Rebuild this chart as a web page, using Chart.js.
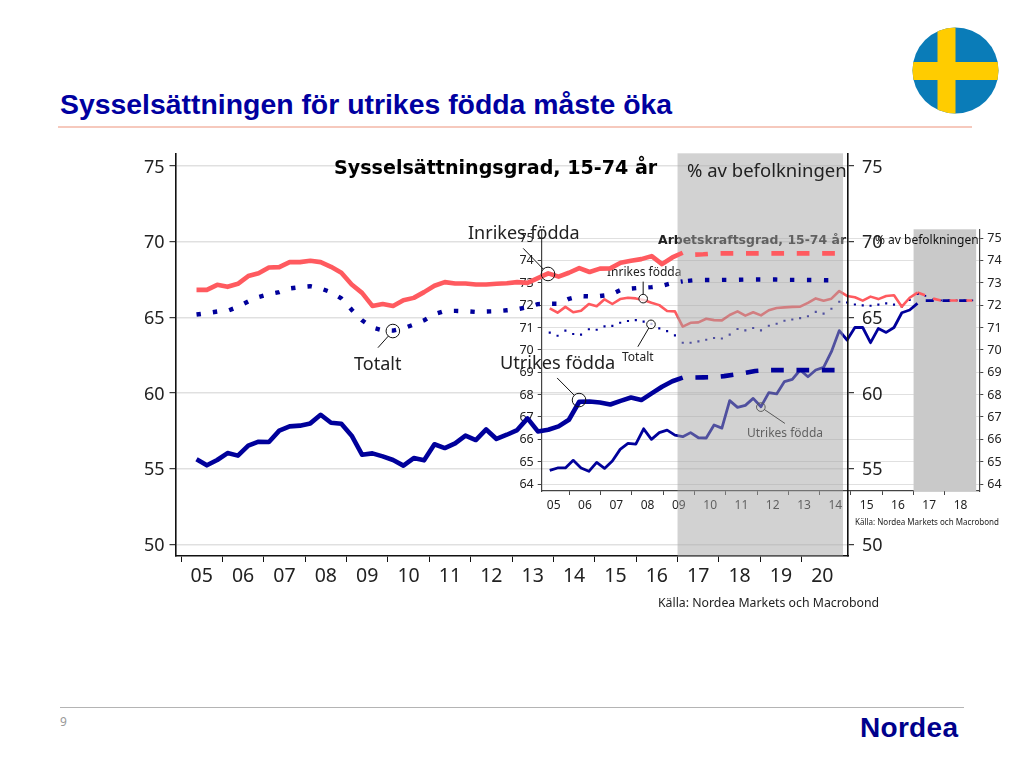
<!DOCTYPE html>
<html lang="sv">
<head>
<meta charset="utf-8">
<title>Sysselsättningen för utrikes födda måste öka</title>
<script src="https://cdn.jsdelivr.net/npm/chart.js@4/dist/chart.umd.min.js"></script>
<style>
  html, body { margin: 0; padding: 0; background: #fff; }
  #page { position: relative; width: 1024px; height: 768px; overflow: hidden; font-family: "Noto Sans", sans-serif; color: #222; }
  #page > div { position: absolute; white-space: nowrap; line-height: 1; }
  #heading { left: 60px; top: 90px; font: bold 28.4px "Liberation Sans", sans-serif; color: #0000a0; z-index: 5; }
  #headRule { left: 58px; top: 126px; width: 914px; height: 2px; background: #f6c9bd; }
  #footRule { left: 60px; top: 707px; width: 904px; height: 1px; background: #b4b4b4; }
  #pageNo { left: 60px; top: 716px; font-size: 12px; color: #999; }
  #logo { left: 860px; top: 714px; font: bold 28px "Liberation Sans", sans-serif; color: #00008c; letter-spacing: 0.3px; }
  #flag { position: absolute; left: 912px; top: 27px; }
  .box { position: absolute; }
  #smallBox { left: 490px; top: 220px; width: 530px; height: 300px; z-index: 1; }
  #bigBox { left: 125px; top: 145px; width: 765px; height: 450px; z-index: 2; }
  .under { z-index: 1; }
  .over { z-index: 3; }
  .heavy { font-family: "DejaVu Sans", sans-serif; font-weight: bold; }
</style>
</head>
<body>
<div id="page">
  <div id="heading">Sysselsättningen för utrikes födda måste öka</div>
  <div id="headRule"></div>
  <svg id="flag" width="87" height="87" viewBox="0 0 87 87">
    <clipPath id="disc"><circle cx="43.5" cy="43.5" r="43"/></clipPath>
    <g clip-path="url(#disc)">
      <rect width="87" height="87" fill="#0a7cb8"/>
      <rect x="25.5" width="18" height="87" fill="#ffcc00"/>
      <rect y="35" width="87" height="18" fill="#ffcc00"/>
    </g>
  </svg>

  <div class="box" id="smallBox"><canvas id="smallChart"></canvas></div>
  <div class="under heavy" style="left:658px;top:234px;font-size:12.45px;color:#222">Arbetskraftsgrad, 15-74 år</div>
  <div class="under" style="left:875px;top:234px;font-size:12px;color:#111">% av befolkningen</div>
  <div class="under" style="left:607px;top:266px;font-size:12px">Inrikes födda</div>
  <div class="under" style="left:622px;top:351px;font-size:12px">Totalt</div>
  <div class="under" style="left:747px;top:427px;font-size:12px">Utrikes födda</div>
  <div class="under" style="left:855px;top:518px;font-size:8px">Källa: Nordea Markets och Macrobond</div>

  <div class="box" id="bigBox"><canvas id="bigChart"></canvas></div>
  <div class="over heavy" style="left:334px;top:158px;font-size:19.1px;color:#000">Sysselsättningsgrad, 15-74 år</div>
  <div class="over" style="left:687px;top:161px;font-size:18.5px">% av befolkningen</div>
  <div class="over" style="left:468px;top:223px;font-size:18px">Inrikes födda</div>
  <div class="over" style="left:354px;top:354px;font-size:18px">Totalt</div>
  <div class="over" style="left:500px;top:353px;font-size:18.2px">Utrikes födda</div>
  <div class="over" style="left:658px;top:597px;font-size:12.3px">Källa: Nordea Markets och Macrobond</div>

  <div id="footRule"></div>
  <div id="pageNo">9</div>
  <div id="logo">Nordea</div>
</div>

<script>
// Sysselsattningsgrad, 15-74 ar (large chart), quarterly from 2005
const empInrikes = [66.82, 66.82, 67.15, 67.02, 67.22, 67.73, 67.92, 68.3, 68.32, 68.65, 68.65, 68.74, 68.65, 68.34, 67.95, 67.17, 66.62, 65.76, 65.89, 65.76, 66.14, 66.29, 66.67, 67.09, 67.33, 67.24, 67.24, 67.17, 67.17, 67.22, 67.26, 67.33, 67.28, 67.6, 67.91, 67.69, 67.95, 68.26, 68.0, 68.22, 68.24, 68.61, 68.74, 68.85, 69.05, 68.52, 68.96, 69.27];
const empTotalt = [65.19, 65.28, 65.39, 65.43, 65.7, 66.05, 66.34, 66.53, 66.67, 66.91, 67.0, 67.06, 66.91, 66.67, 66.25, 65.5, 64.81, 64.33, 64.15, 64.13, 64.28, 64.53, 64.81, 65.21, 65.43, 65.43, 65.41, 65.36, 65.39, 65.41, 65.47, 65.54, 65.67, 65.88, 65.9, 65.9, 66.23, 66.41, 66.39, 66.41, 66.5, 66.81, 66.9, 66.96, 67.0, 67.09, 67.27, 67.38];
const empUtrikes = [55.63, 55.23, 55.58, 56.04, 55.87, 56.53, 56.79, 56.77, 57.52, 57.8, 57.85, 58.0, 58.57, 58.04, 57.98, 57.19, 55.93, 56.02, 55.82, 55.58, 55.21, 55.71, 55.56, 56.62, 56.37, 56.68, 57.19, 56.9, 57.6, 56.97, 57.25, 57.56, 58.33, 57.47, 57.58, 57.8, 58.24, 59.43, 59.45, 59.38, 59.25, 59.49, 59.71, 59.54, 59.98, 60.42, 60.78, 61.02];
// prognos, first value joins the last outcome
const empInrikesProg = [69.27, 69.14, 69.17, 69.22, 69.23, 69.23, 69.23, 69.23, 69.23, 69.23, 69.23, 69.23, 69.23, 69.23, 69.23, 69.23];
const empTotaltProg = [67.38, 67.45, 67.47, 67.47, 67.48, 67.48, 67.5, 67.5, 67.5, 67.5, 67.48, 67.48, 67.47, 67.47, 67.45, 67.45];
const empUtrikesProg = [61.02, 61.03, 61.04, 61.05, 61.12, 61.22, 61.33, 61.46, 61.52, 61.52, 61.52, 61.52, 61.52, 61.52, 61.52, 61.52];

// Arbetskraftsgrad, 15-74 ar (small chart)
const labInrikes = [71.86, 71.66, 71.92, 71.68, 71.75, 72.05, 71.95, 72.26, 72.05, 72.27, 72.33, 72.3, 72.23, 72.11, 72.0, 71.74, 71.72, 71.04, 71.21, 71.23, 71.39, 71.33, 71.32, 71.56, 71.72, 71.53, 71.68, 71.54, 71.77, 71.87, 71.9, 71.92, 71.93, 72.1, 72.3, 72.2, 72.29, 72.63, 72.41, 72.35, 72.2, 72.38, 72.27, 72.41, 72.44, 71.93, 72.33, 72.56];
const labTotalt = [70.77, 70.63, 70.86, 70.71, 70.68, 70.92, 70.9, 71.05, 71.07, 71.21, 71.29, 71.33, 71.26, 71.16, 70.96, 70.84, 70.65, 70.32, 70.32, 70.38, 70.45, 70.53, 70.51, 70.68, 70.93, 70.87, 70.98, 70.87, 71.08, 71.17, 71.3, 71.36, 71.42, 71.5, 71.7, 71.62, 71.84, 72.15, 72.12, 72.03, 71.99, 71.97, 72.02, 72.08, 72.02, 71.93, 72.23, 72.5];
const labUtrikes = [64.61, 64.72, 64.72, 65.06, 64.72, 64.57, 64.97, 64.7, 65.03, 65.55, 65.82, 65.79, 66.47, 66.0, 66.3, 66.41, 66.19, 66.12, 66.3, 66.07, 66.06, 66.64, 66.5, 67.73, 67.43, 67.52, 67.83, 67.46, 68.09, 68.03, 68.58, 68.68, 69.1, 68.8, 69.1, 69.22, 69.92, 70.86, 70.44, 71.0, 71.0, 70.32, 70.96, 70.78, 71.0, 71.66, 71.78, 72.08];
const labInrikesProg = [72.56, 72.44, 72.29, 72.21, 72.21, 72.21, 72.21, 72.21];
const labTotaltProg = [72.5, 72.41, 72.25, 72.21, 72.21, 72.21, 72.21, 72.21];
const labUtrikesProg = [72.08, 72.2, 72.2, 72.2, 72.2, 72.2, 72.2, 72.2];

const firstQuarter = 2005.375;
const prognosStart = 47;

const RED = '#ff5a5f';
const BLUE = '#00009b';
const INK = '#222';
const GRID = 'rgba(0,0,0,0.12)';

const toPoints = (values, startIndex = 0) =>
  values.map((v, i) => ({ x: firstQuarter + (startIndex + i) * 0.25, y: v }));

const line = (values, color, width, extra = {}, startIndex = 0) => ({
  data: toPoints(values, startIndex),
  borderColor: color,
  backgroundColor: color,
  borderWidth: width,
  pointRadius: 0,
  tension: 0,
  borderCapStyle: 'butt',
  borderJoinStyle: 'round',
  ...extra
});

// grey prognosis band, and circles with leader lines for the series names
const overlay = {
  id: 'overlay',
  beforeDatasetsDraw(chart, args, opts) {
    const { ctx, chartArea, scales } = chart;
    ctx.save();
    ctx.fillStyle = opts.bandColor;
    const x0 = scales.x.getPixelForValue(opts.band[0]);
    const x1 = scales.x.getPixelForValue(opts.band[1]);
    ctx.fillRect(x0, chartArea.top, x1 - x0, chartArea.bottom - chartArea.top);
    ctx.restore();
  },
  afterDatasetsDraw(chart, args, opts) {
    const { ctx, scales } = chart;
    ctx.save();
    ctx.strokeStyle = '#111';
    ctx.lineWidth = 1;
    opts.callouts.forEach(c => {
      const cx = scales.x.getPixelForValue(c.x);
      const cy = scales.y.getPixelForValue(c.y);
      const ex = scales.x.getPixelForValue(c.toX);
      const ey = scales.y.getPixelForValue(c.toY);
      const a = Math.atan2(ey - cy, ex - cx);
      ctx.beginPath();
      ctx.arc(cx, cy, opts.radius, 0, Math.PI * 2);
      if (c.blank) {
        ctx.fillStyle = 'rgba(255,255,255,0.75)';
        ctx.fill();
      }
      ctx.moveTo(cx + Math.cos(a) * opts.radius, cy + Math.sin(a) * opts.radius);
      ctx.lineTo(ex, ey);
      ctx.stroke();
    });
    ctx.restore();
  }
};

const buildScales = (s) => {
  const yAxis = (position, width, onChart, pad) => ({
    position,
    min: s.yMin,
    max: s.yMax,
    afterFit(scale) {
      scale.width = width;
      scale.paddingTop = 0;
      scale.paddingBottom = 0;
    },
    border: { color: s.spine, width: s.spineWidth },
    grid: {
      drawOnChartArea: onChart,
      color: GRID,
      lineWidth: s.gridWidth,
      tickColor: s.spine,
      tickWidth: 1,
      tickLength: s.tick
    },
    ticks: {
      stepSize: s.yStep,
      includeBounds: false,
      color: INK,
      padding: pad,
      labelOffset: s.yShift,
      font: { family: 'Noto Sans', size: s.yFont }
    }
  });
  return {
    x: {
      type: 'linear',
      position: 'bottom',
      min: s.xMin,
      max: s.xMax,
      afterFit(scale) {
        scale.height = s.xHeight;
        scale.paddingLeft = 0;
        scale.paddingRight = 0;
      },
      border: { color: s.spine, width: s.spineWidth },
      grid: {
        drawOnChartArea: false,
        tickLength: s.tick,
        tickWidth: 1,
        // ticks sit at year starts, the labels between them
        tickColor: c => (Number.isInteger(c.tick.value) && c.tick.value < s.lastTick ? s.spine : 'rgba(0,0,0,0)')
      },
      ticks: {
        stepSize: 0.5,
        includeBounds: false,
        autoSkip: false,
        maxRotation: 0,
        color: INK,
        padding: s.xPad,
        font: { family: 'Noto Sans', size: s.xFont },
        callback: v => (Number.isInteger(v) ? '' : String(Math.floor(v)).slice(2))
      }
    },
    y: yAxis('left', s.leftWidth, true, s.yPad),
    yRight: yAxis('right', s.rightWidth, false, s.yPadRight)
  };
};

new Chart(document.getElementById('smallChart'), {
  type: 'line',
  data: {
    datasets: [
      line(labInrikes, RED, 2.6),
      line(labUtrikes, BLUE, 2.8),
      line(labTotalt, BLUE, 0, { showLine: false, pointRadius: 1.5, pointStyle: 'rect' }),
      line(labInrikesProg, RED, 2.6, { borderDash: [8, 8.7] }, prognosStart),
      line(labUtrikesProg, BLUE, 2.8, { borderDash: [8, 8.7], borderDashOffset: 8 }, prognosStart),
      line(labTotaltProg, BLUE, 0, { showLine: false, pointRadius: 1.3, pointStyle: 'rect' }, prognosStart)
    ]
  },
  options: {
    responsive: true,
    maintainAspectRatio: false,
    animation: false,
    layout: { padding: { top: 9.3 } },
    plugins: {
      legend: { display: false },
      tooltip: { enabled: false },
      overlay: {
        band: [2017, 2019],
        bandColor: '#c9c9c9',
        radius: 4.3,
        callouts: [
          { x: 2008.36, y: 72.29, toX: 2008.36, toY: 73.05, blank: true },
          { x: 2008.61, y: 71.14, toX: 2008.19, toY: 70.14, blank: true },
          { x: 2012.12, y: 67.44, toX: 2012.89, toY: 66.71 }
        ]
      }
    },
    scales: buildScales({
      xMin: 2005.118, xMax: 2019.1, yMin: 63.69, yMax: 75.39, yStep: 1,
      leftWidth: 51.7, rightWidth: 40.7, xHeight: 29, lastTick: 2019,
      spine: '#444', spineWidth: 1.2, gridWidth: 1, tick: 4, yPad: 4, yPadRight: 4, xPad: 3,
      yShift: 0.5, yFont: 12.5, xFont: 12
    })
  },
  plugins: [overlay]
});

new Chart(document.getElementById('bigChart'), {
  type: 'line',
  data: {
    datasets: [
      line(empInrikes, RED, 4.6),
      line(empUtrikes, BLUE, 4.6),
      line(empTotalt, BLUE, 4.4, { borderDash: [4.4, 12.1] }),
      line(empInrikesProg, RED, 4.6, { borderDash: [12.7, 12.7], borderDashOffset: 12.7 }, prognosStart),
      line(empUtrikesProg, BLUE, 4.6, { borderDash: [12.7, 12.7], borderDashOffset: 12.7 }, prognosStart),
      line(empTotaltProg, BLUE, 4.4, { borderDash: [4.4, 12.6], borderDashOffset: 11.7 }, prognosStart)
    ]
  },
  options: {
    responsive: true,
    maintainAspectRatio: false,
    animation: false,
    layout: { padding: { top: 8.3 } },
    plugins: {
      legend: { display: false },
      tooltip: { enabled: false },
      overlay: {
        band: [2017, 2021],
        bandColor: 'rgba(163,163,163,0.49)',
        radius: 6.8,
        callouts: [
          { x: 2013.87, y: 67.87, toX: 2013.27, toY: 69.56 },
          { x: 2010.12, y: 64.1, toX: 2009.76, toY: 63.0 },
          { x: 2014.62, y: 59.54, toX: 2014.09, toY: 61.0 }
        ]
      }
    },
    scales: buildScales({
      xMin: 2004.867, xMax: 2021.12, yMin: 49.24, yMax: 75.84, yStep: 5,
      leftWidth: 50.5, rightWidth: 42, xHeight: 39, lastTick: 2021,
      spine: '#111', spineWidth: 1.6, gridWidth: 1.4, tick: 6, yPad: 5, yPadRight: 8, xPad: 3,
      yShift: 1.5, yFont: 18, xFont: 19.5
    })
  },
  plugins: [overlay]
});
</script>
</body>
</html>
